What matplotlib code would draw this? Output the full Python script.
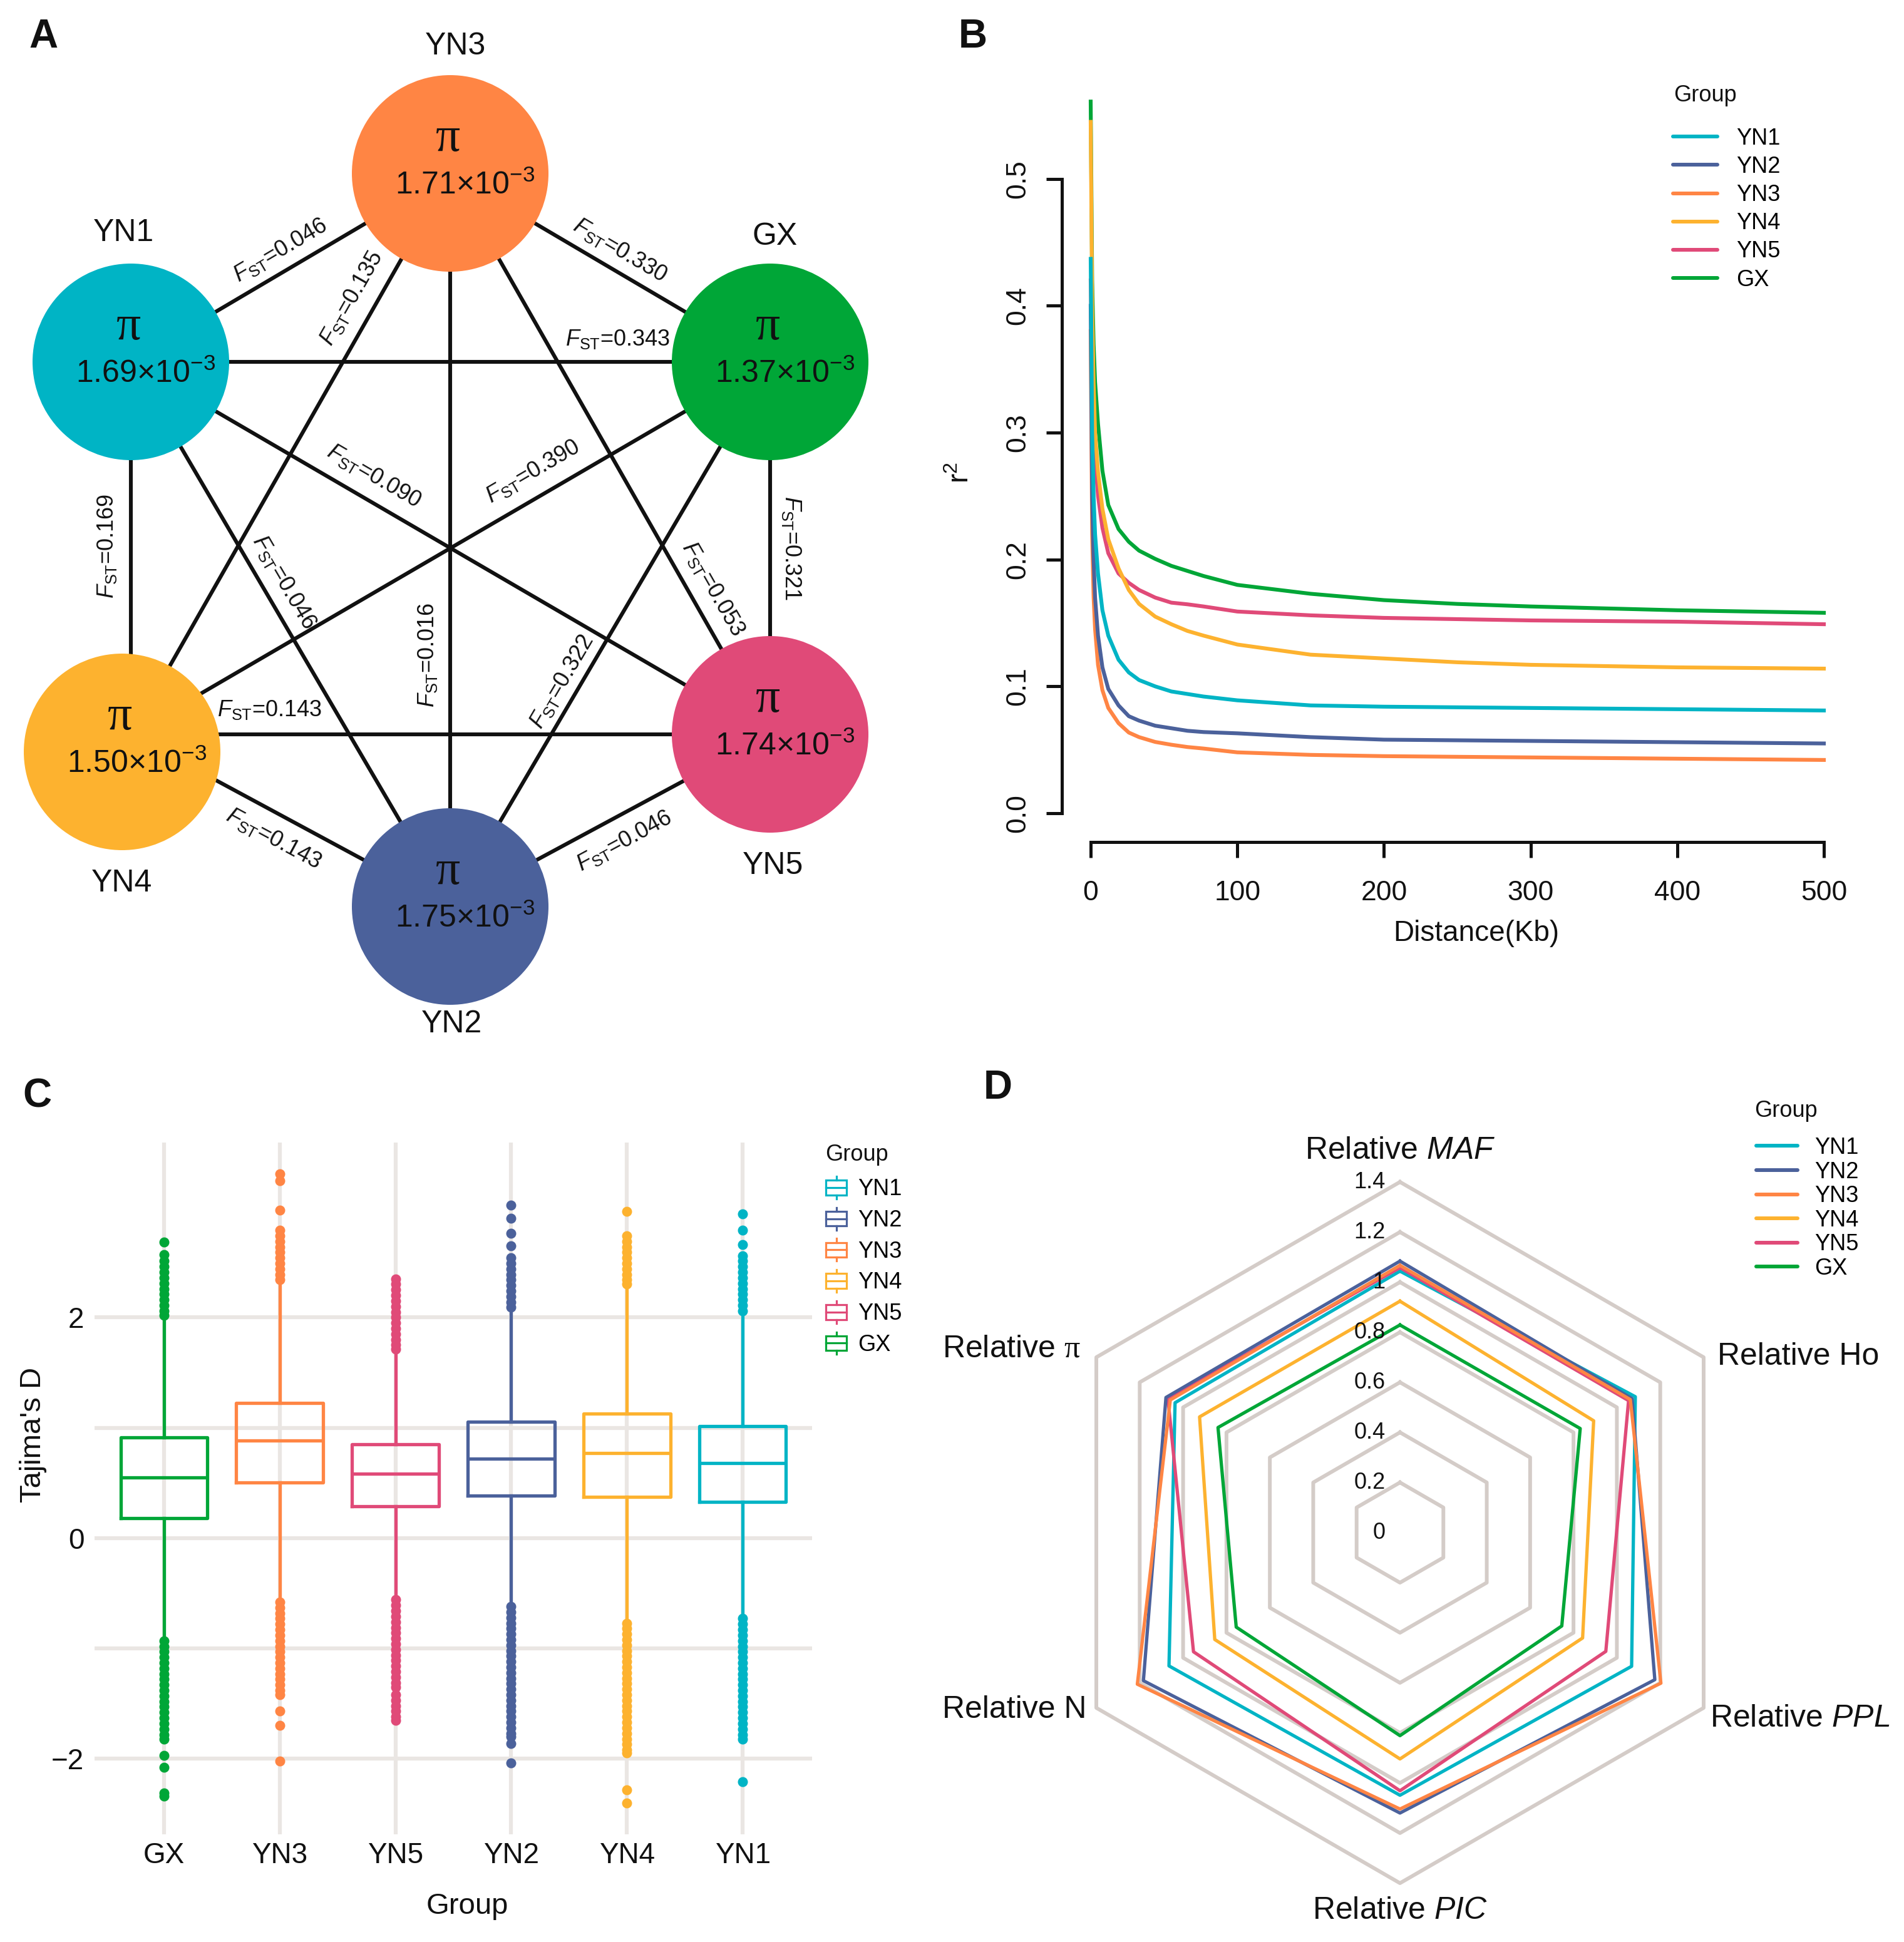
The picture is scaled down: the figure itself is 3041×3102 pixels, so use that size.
import numpy as np
import matplotlib
matplotlib.use("Agg")
import matplotlib.pyplot as plt
from matplotlib.patches import Circle, Rectangle
from matplotlib.lines import Line2D
from matplotlib.legend_handler import HandlerBase

plt.rcParams['font.family'] = ['Liberation Sans', 'DejaVu Sans']
plt.rcParams['mathtext.fontset'] = 'custom'
plt.rcParams['mathtext.rm'] = 'Liberation Sans'
plt.rcParams['mathtext.it'] = 'Liberation Sans:italic'
plt.rcParams['mathtext.bf'] = 'Liberation Sans:bold'
plt.rcParams['mathtext.sf'] = 'Liberation Serif'

# ---------------- data ----------------
groups = ['YN1', 'YN2', 'YN3', 'YN4', 'YN5', 'GX']
colors = {'YN1': '#00B4C5', 'YN2': '#4B619B', 'YN3': '#FF8544',
          'YN4': '#FDB22F', 'YN5': '#E04A78', 'GX': '#00A637'}

# Panel A: nucleotide diversity and pairwise Fst
pi_labels = {'YN3': '1.71', 'GX': '1.37', 'YN5': '1.74',
             'YN2': '1.75', 'YN4': '1.50', 'YN1': '1.69'}
fst_pairs = [('YN1', 'YN3'), ('YN3', 'GX'), ('YN3', 'YN4'), ('YN1', 'GX'),
             ('YN1', 'YN5'), ('YN4', 'GX'), ('YN1', 'YN4'), ('GX', 'YN5'),
             ('YN1', 'YN2'), ('YN3', 'YN2'), ('YN3', 'YN5'), ('GX', 'YN2'),
             ('YN4', 'YN5'), ('YN4', 'YN2'), ('YN2', 'YN5')]
fst_values = ['0.046', '0.330', '0.135', '0.343', '0.090', '0.390', '0.169',
              '0.321', '0.046', '0.016', '0.053', '0.322', '0.143', '0.143',
              '0.046']

# Panel B: LD decay
ld_distance_kb = [0, 1, 2, 3, 5, 8, 12, 19, 26, 33, 44, 55, 66, 77, 100, 150, 200, 250, 300, 400, 500]
r2_YN1 = [0.437, 0.30, 0.25, 0.22, 0.189, 0.160, 0.140, 0.121, 0.111, 0.105, 0.100, 0.096, 0.094, 0.092, 0.089, 0.085, 0.084, 0.0835, 0.083, 0.082, 0.081]
r2_YN2 = [0.400, 0.25, 0.20, 0.17, 0.140, 0.115, 0.098, 0.085, 0.0765, 0.073, 0.069, 0.067, 0.065, 0.064, 0.063, 0.060, 0.058, 0.0575, 0.057, 0.056, 0.055]
r2_YN3 = [0.380, 0.22, 0.17, 0.145, 0.117, 0.097, 0.083, 0.071, 0.0636, 0.060, 0.0562, 0.054, 0.0522, 0.051, 0.048, 0.046, 0.045, 0.0445, 0.044, 0.043, 0.042]
r2_YN4 = [0.545, 0.40, 0.34, 0.30, 0.269, 0.240, 0.216, 0.193, 0.176, 0.165, 0.155, 0.149, 0.1437, 0.140, 0.133, 0.125, 0.122, 0.119, 0.117, 0.115, 0.114]
r2_YN5 = [0.420, 0.34, 0.30, 0.28, 0.250, 0.225, 0.205, 0.189, 0.1816, 0.176, 0.170, 0.166, 0.1647, 0.163, 0.159, 0.156, 0.154, 0.153, 0.152, 0.151, 0.149]
r2_GX = [0.561, 0.42, 0.37, 0.34, 0.307, 0.270, 0.243, 0.224, 0.214, 0.207, 0.2005, 0.195, 0.191, 0.187, 0.180, 0.173, 0.168, 0.165, 0.163, 0.160, 0.158]
r2_series = {'YN1': r2_YN1, 'YN2': r2_YN2, 'YN3': r2_YN3,
             'YN4': r2_YN4, 'YN5': r2_YN5, 'GX': r2_GX}

# Panel C: Tajima's D boxplots
tajima_order = ['GX', 'YN3', 'YN5', 'YN2', 'YN4', 'YN1']
taj_q1 = [0.18, 0.504, 0.29, 0.382, 0.372, 0.326]
taj_med = [0.55, 0.882, 0.586, 0.718, 0.769, 0.678]
taj_q3 = [0.91, 1.223, 0.851, 1.055, 1.126, 1.014]
taj_whislo = [-0.91, -0.55, -0.52, -0.59, -0.74, -0.70]
taj_whishi = [2.00, 2.30, 1.66, 2.05, 2.26, 2.03]
out_GX = [2.68, 2.57, 2.51, 2.46, 2.41, 2.36, 2.31, 2.26, 2.21, 2.16, 2.11, 2.06, 2.02,
          -0.93, -0.98, -1.03, -1.08, -1.13, -1.18, -1.23, -1.28, -1.33, -1.38, -1.43, -1.48,
          -1.53, -1.58, -1.63, -1.68, -1.73, -1.78, -1.82, -1.97, -2.08, -2.31, -2.34]
out_YN3 = [3.30, 3.24, 2.97, 2.79, 2.74, 2.69, 2.64, 2.59, 2.54, 2.49, 2.44, 2.39, 2.34,
           -0.58, -0.63, -0.68, -0.73, -0.78, -0.83, -0.88, -0.93, -0.98, -1.03, -1.08, -1.13,
           -1.18, -1.23, -1.28, -1.33, -1.38, -1.42, -1.57, -1.70, -2.02]
out_YN5 = [2.35, 2.30, 2.25, 2.20, 2.15, 2.10, 2.05, 2.00, 1.95, 1.90, 1.85, 1.80, 1.75, 1.71,
           -0.56, -0.61, -0.66, -0.71, -0.76, -0.81, -0.86, -0.91, -0.96, -1.01, -1.06, -1.11,
           -1.16, -1.21, -1.26, -1.31, -1.35, -1.42, -1.47, -1.52, -1.57, -1.62, -1.65]
out_YN2 = [3.02, 2.90, 2.76, 2.65, 2.54, 2.49, 2.44, 2.39, 2.34, 2.29, 2.24, 2.19, 2.14, 2.09,
           -0.62, -0.67, -0.72, -0.77, -0.82, -0.87, -0.92, -0.97, -1.02, -1.07, -1.12, -1.17,
           -1.22, -1.27, -1.32, -1.37, -1.42, -1.47, -1.52, -1.57, -1.62, -1.67, -1.72, -1.77,
           -1.80, -1.86, -2.04]
out_YN4 = [2.96, 2.74, 2.69, 2.64, 2.59, 2.54, 2.49, 2.44, 2.39, 2.34, 2.30,
           -0.77, -0.82, -0.87, -0.92, -0.97, -1.02, -1.07, -1.12, -1.17, -1.22, -1.27, -1.32,
           -1.37, -1.42, -1.47, -1.52, -1.57, -1.62, -1.67, -1.72, -1.77, -1.82, -1.87, -1.92,
           -1.95, -2.28, -2.40]
out_YN1 = [2.94, 2.79, 2.66, 2.56, 2.51, 2.46, 2.41, 2.36, 2.31, 2.26, 2.21, 2.16, 2.11, 2.06,
           -0.73, -0.78, -0.83, -0.88, -0.93, -0.98, -1.03, -1.08, -1.13, -1.18, -1.23, -1.28,
           -1.33, -1.38, -1.43, -1.48, -1.53, -1.58, -1.63, -1.68, -1.73, -1.78, -1.82, -2.21]
taj_outliers = {'GX': out_GX, 'YN3': out_YN3, 'YN5': out_YN5,
                'YN2': out_YN2, 'YN4': out_YN4, 'YN1': out_YN1}

# Panel D: radar of relative diversity indices
radar_axes = ['MAF', 'Ho', 'PPL', 'PIC', 'N', 'pi']
radar_YN1 = [1.044, 1.085, 1.068, 1.049, 1.065, 1.037]
radar_YN2 = [1.084, 1.070, 1.175, 1.120, 1.183, 1.079]
radar_YN3 = [1.067, 1.062, 1.203, 1.104, 1.211, 1.059]
radar_YN4 = [0.924, 0.893, 0.842, 0.904, 0.854, 0.924]
radar_YN5 = [1.058, 1.054, 0.949, 1.031, 0.952, 1.070]
radar_GX = [0.829, 0.831, 0.746, 0.811, 0.755, 0.839]
radar_series = {'YN1': radar_YN1, 'YN2': radar_YN2, 'YN3': radar_YN3,
                'YN4': radar_YN4, 'YN5': radar_YN5, 'GX': radar_GX}
radar_levels = [0, 0.2, 0.4, 0.6, 0.8, 1.0, 1.2, 1.4]
radar_level_labels = ['0', '0.2', '0.4', '0.6', '0.8', '1', '1.2', '1.4']

# ---------------- figure ----------------
W, H = 3041, 3102
fig = plt.figure(figsize=(W / 100, H / 100), dpi=100)
fig.patch.set_facecolor('white')
INK = '#111111'


def rect(x0, y0, x1, y1):
    return [x0 / W, 1 - y1 / H, (x1 - x0) / W, (y1 - y0) / H]


def fpos(x, y):
    return (x / W, 1 - y / H)


# ---------------- Panel A ----------------
axA = fig.add_axes(rect(0, 0, 1500, 1700))
axA.set_xlim(0, 1500)
axA.set_ylim(1700, 0)
axA.axis('off')

node_xy = {'YN3': (719, 277), 'GX': (1230, 578), 'YN5': (1230, 1173),
           'YN2': (719, 1448), 'YN4': (209, 1173), 'YN1': (209, 578)}
circle_shift = {'YN4': (-14, 28)}
node_label_off = {'YN3': (9, -203), 'GX': (8, -200), 'YN1': (-12, -206),
                  'YN4': (-14, 238), 'YN5': (5, 210), 'YN2': (2, 188)}
# label placement along each edge: (fraction, perpendicular offset, flip)
edge_label_pos = [(0.50, -32, False), (0.50, -32, False), (0.243, 38, False),
                  (0.762, -36, False), (0.362, -38, False), (0.648, -39, False),
                  (0.494, 38, False), (0.50, -34, True), (0.424, -33, False),
                  (0.657, 36, False), (0.761, -36, False), (0.603, 28, False),
                  (0.217, -39, False), (0.483, 39, False), (0.508, 40, False)]

for (a, b), val, (t, s, flip) in zip(fst_pairs, fst_values, edge_label_pos):
    p1 = np.array(node_xy[a], float)
    p2 = np.array(node_xy[b], float)
    axA.plot([p1[0], p2[0]], [p1[1], p2[1]], color=INK, lw=4.4, zorder=1,
             solid_capstyle='butt')
    d = p2 - p1
    L = np.hypot(*d)
    n = np.array([-d[1], d[0]]) / L
    pos = p1 + t * d + s * n
    ang = np.degrees(np.arctan2(-d[1], d[0]))
    if ang > 90:
        ang -= 180
    if ang <= -90:
        ang += 180
    if flip:
        ang -= 180
    axA.text(pos[0], pos[1], r'$F_{\mathrm{ST}}$=' + val, rotation=ang,
             rotation_mode='anchor', ha='center', va='center', fontsize=26,
             color=INK, zorder=3)

for g, (x, y) in node_xy.items():
    sx, sy = circle_shift.get(g, (0, 0))
    cx, cy = x + sx, y + sy
    axA.add_patch(Circle((cx, cy), 157, facecolor=colors[g], edgecolor='none', zorder=2))
    axA.text(cx - 3, cy - 55, 'π', fontsize=56, family='Liberation Serif',
             ha='center', va='center', color=INK, zorder=4)
    axA.text(cx + 24, cy + 19, pi_labels[g] + r'×10$^{\mathrm{-3}}$', fontsize=36,
             ha='center', va='center', color=INK, zorder=4)
    lx, ly = node_label_off[g]
    axA.text(x + lx, y + ly, g, fontsize=36, ha='center', va='center', color=INK)

# ---------------- Panel B ----------------
axB = fig.add_axes(rect(1742, 144, 2913, 1299))
axB.set_xlim(0, 500)
axB.set_ylim(0, 0.57)
for g in ['GX', 'YN5', 'YN4', 'YN3', 'YN2', 'YN1']:
    axB.plot(ld_distance_kb, r2_series[g], color=colors[g], lw=4.4, clip_on=False,
             solid_joinstyle='round')
for side in ['top', 'right']:
    axB.spines[side].set_visible(False)
axB.spines['left'].set_bounds(0, 0.5)
axB.spines['bottom'].set_bounds(0, 500)
axB.spines['left'].set_position(('outward', 33))
axB.spines['bottom'].set_position(('outward', 33))
for side in ['left', 'bottom']:
    axB.spines[side].set_linewidth(3.6)
    axB.spines[side].set_color(INK)
axB.set_xticks([0, 100, 200, 300, 400, 500])
axB.set_yticks([0, 0.1, 0.2, 0.3, 0.4, 0.5])
axB.set_yticklabels(['0.0', '0.1', '0.2', '0.3', '0.4', '0.5'])
axB.tick_params(axis='both', length=18, width=3.6, color=INK, labelsize=32,
                labelcolor=INK)
axB.tick_params(axis='x', pad=26)
axB.tick_params(axis='y', pad=18, labelrotation=90)
for lab in axB.get_yticklabels():
    lab.set_va('center')
axB.patch.set_visible(False)
fig.text(*fpos(2358, 1491), 'Distance(Kb)', fontsize=33, ha='center', va='center', color=INK)
fig.text(*fpos(1535, 755), r'r$^{2}$', fontsize=33, ha='center', va='center',
         rotation=90, color=INK)

handlesB = [Line2D([], [], color=colors[g], lw=4.3, solid_capstyle='round', label=g)
            for g in groups]
legB = axB.legend(handles=handlesB, loc='upper left',
                  bbox_to_anchor=fpos(2672, 204), bbox_transform=fig.transFigure,
                  frameon=False, fontsize=26, handlelength=1.97, handletextpad=0.83,
                  labelspacing=0.28, borderpad=0, borderaxespad=0)
fig.text(*fpos(2673, 153), 'Group', fontsize=26, ha='left', va='center', color=INK)

# ---------------- Panel C ----------------
axC = fig.add_axes(rect(151, 1825, 1297, 2930))
gridc = '#EAE6E3'
all_vals = np.concatenate([np.array(v) for v in taj_outliers.values()] +
                          [np.array(taj_whislo), np.array(taj_whishi)])
lo, hi = all_vals.min(), all_vals.max()
padv = 0.05 * (hi - lo)
axC.set_ylim(lo - padv, hi + padv)
axC.set_xlim(0.4, 6.6)
for i, g in enumerate(tajima_order):
    st = [dict(med=taj_med[i], q1=taj_q1[i], q3=taj_q3[i], whislo=taj_whislo[i],
               whishi=taj_whishi[i], fliers=taj_outliers[g], label=g)]
    c = colors[g]
    axC.bxp(st, positions=[i + 1], widths=0.75, showcaps=False, showfliers=True,
            boxprops=dict(color=c, lw=3.8), medianprops=dict(color=c, lw=3.8),
            whiskerprops=dict(color=c, lw=3.8),
            flierprops=dict(marker='o', markersize=10.5, markerfacecolor=c,
                            markeredgecolor=c, linestyle='none'),
            manage_ticks=False, zorder=3)
axC.set_xticks(range(1, 7))
axC.set_xticklabels(tajima_order)
axC.set_yticks([-2, 0, 2])
axC.set_yticks([-1, 1], minor=True)
axC.grid(True, which='major', color=gridc, lw=4.5)
axC.grid(True, which='minor', axis='y', color=gridc, lw=4.5)
axC.set_axisbelow(True)
for sp in axC.spines.values():
    sp.set_visible(False)
axC.tick_params(axis='both', which='both', length=0, labelsize=33, labelcolor=INK)
axC.tick_params(axis='y', pad=12)
axC.tick_params(axis='x', pad=9)
axC.patch.set_visible(False)
fig.text(*fpos(746, 3045), 'Group', fontsize=34, ha='center', va='center', color=INK)
fig.text(*fpos(53, 2292), "Tajima's D", fontsize=34, ha='center', va='center',
         rotation=90, color=INK)


class BoxHandler(HandlerBase):
    def create_artists(self, legend, orig_handle, xdescent, ydescent, width, height,
                       fontsize, trans):
        c = orig_handle.get_color()
        x0, y0 = -xdescent, -ydescent
        cx, cy = x0 + width / 2, y0 + height / 2
        bh = height * 0.66
        lw = 2.3
        r = Rectangle((x0, cy - bh / 2), width, bh, fill=False, edgecolor=c, lw=lw,
                      transform=trans)
        m = Line2D([x0, x0 + width], [cy, cy], color=c, lw=lw, transform=trans)
        w1 = Line2D([cx, cx], [cy + bh / 2, y0 + height], color=c, lw=lw, transform=trans)
        w2 = Line2D([cx, cx], [y0, cy - bh / 2], color=c, lw=lw, transform=trans)
        return [r, m, w1, w2]


handlesC = [Line2D([], [], color=colors[g], label=g) for g in groups]
legC = axC.legend(handles=handlesC, loc='upper left',
                  bbox_to_anchor=fpos(1319, 1879), bbox_transform=fig.transFigure,
                  frameon=False, fontsize=26, handlelength=0.92, handleheight=1.15,
                  handletextpad=0.5, labelspacing=0.32, borderpad=0, borderaxespad=0,
                  handler_map={Line2D: BoxHandler()})
fig.text(*fpos(1318, 1845), 'Group', fontsize=26, ha='left', va='center', color=INK)

# ---------------- Panel D ----------------
axD = fig.add_axes(rect(1676, 1888, 2796, 3008), projection='polar')
axD.set_theta_zero_location('N')
axD.set_theta_direction(-1)
axD.set_ylim(0, 1.4)
theta = np.deg2rad(np.arange(len(radar_axes)) * 360.0 / len(radar_axes))
closed = np.append(theta, theta[0])
gridD = '#D4CCC8'
for lv in radar_levels[1:]:
    axD.plot(closed, [lv] * len(closed), color=gridD, lw=4.3, clip_on=False, zorder=1)
for g in ['YN1', 'YN5', 'YN2', 'YN3', 'YN4', 'GX']:
    v = radar_series[g]
    axD.plot(closed, v + v[:1], color=colors[g], lw=3.8, clip_on=False, zorder=3)
axD.set_xticks([])
axD.set_yticks([])
axD.grid(False)
axD.spines['polar'].set_visible(False)
axD.patch.set_visible(False)
for lv, lab in zip(radar_levels, radar_level_labels):
    axD.annotate(lab, xy=(0, lv), xytext=(-17, 0), textcoords='offset points',
                 ha='right', va='center', fontsize=26, color=INK, annotation_clip=False)
axis_text = [r'Relative $\mathit{MAF}$', 'Relative Ho', r'Relative $\mathit{PPL}$',
             r'Relative $\mathit{PIC}$', 'Relative N', r'Relative $\mathsf{\pi}$']
axis_off = [(0, 36), (16, 1), (7, -12), (0, -32), (-11, -2), (-18, 10)]
axis_ha = ['center', 'left', 'left', 'center', 'right', 'right']
for th, txt, off, ha in zip(theta, axis_text, axis_off, axis_ha):
    axD.annotate(txt, xy=(th, 1.4), xytext=off, textcoords='offset points', ha=ha,
                 va='center', fontsize=36, color=INK, annotation_clip=False)

handlesD = [Line2D([], [], color=colors[g], lw=4.3, solid_capstyle='round', label=g)
            for g in groups]
legD = axD.legend(handles=handlesD, loc='upper left',
                  bbox_to_anchor=fpos(2805, 1816), bbox_transform=fig.transFigure,
                  frameon=False, fontsize=26, handlelength=1.83, handletextpad=0.75,
                  labelspacing=0.10, borderpad=0, borderaxespad=0)
fig.text(*fpos(2802, 1775), 'Group', fontsize=26, ha='left', va='center', color=INK)

# ---------------- panel letters ----------------
for letter, (x, y) in zip('ABCD', [(69, 59), (1554, 59), (59, 1752), (1594, 1738)]):
    fig.text(*fpos(x, y), letter, fontsize=46, fontweight='bold', ha='center',
             va='center', color=INK)

fig.savefig('out.png', dpi=100, facecolor='white')
